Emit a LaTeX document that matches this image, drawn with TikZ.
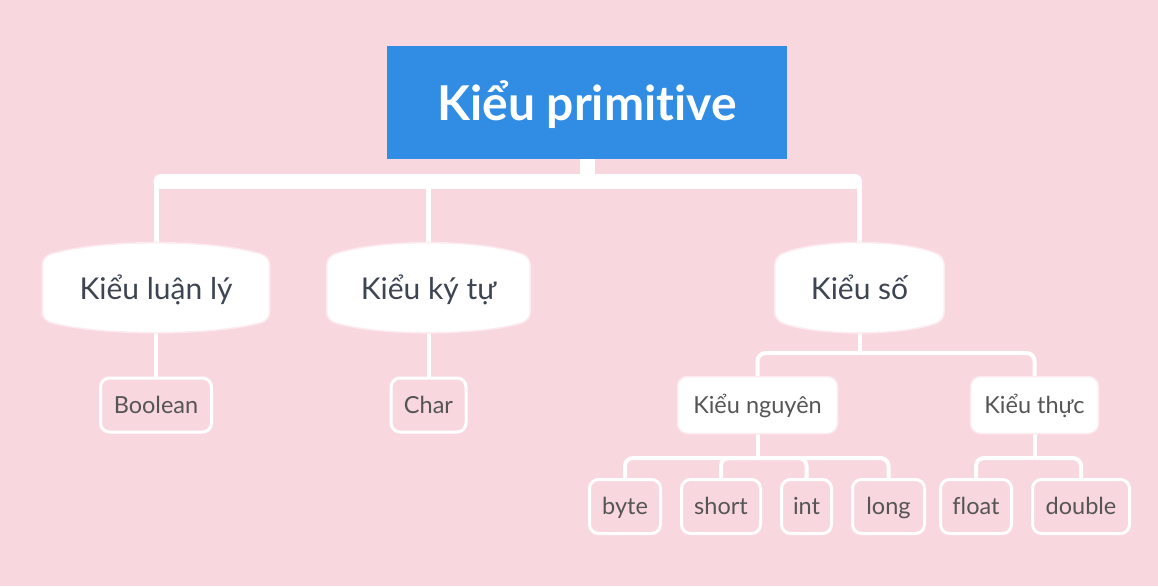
\documentclass[tikz,border=0pt]{standalone}
\usepackage{fontspec}
\setmainfont{Lato}[RawFeature={-liga}]
\usetikzlibrary{calc}
\definecolor{bgpink}{HTML}{F9D7DE}
\definecolor{topblue}{HTML}{318CE3}
\definecolor{txtdark}{HTML}{3E4552}
\definecolor{txtgray}{HTML}{555555}
\definecolor{rim}{HTML}{FCEBEF}
\pgfdeclarelayer{bg}
\pgfdeclarelayer{lines}
\pgfdeclarelayer{shapes}
\pgfsetlayers{bg,lines,shapes,main}

\tikzset{
  root/.style={fill=topblue, text=white, font=\fontsize{48}{56}\selectfont\bfseries,
    minimum width=400pt, minimum height=113pt, inner sep=0pt,
    text height=37pt, text depth=2pt},
  kind/.style={text=txtdark, font=\fontsize{30}{36}\selectfont,
    minimum height=63pt, inner sep=0pt, text height=24pt, text depth=3pt},
  sub/.style={fill=white, draw=rim, line width=1.5pt, rounded corners=10pt, text=txtgray,
    font=\fontsize{23.5}{28}\selectfont, minimum height=57pt, inner sep=0pt,
    text height=18pt, text depth=2pt},
  leaf/.style={draw=white, line width=3pt, rounded corners=9pt, text=txtgray,
    font=\fontsize{23.5}{28}\selectfont, minimum height=54pt, inner sep=0pt,
    text height=18pt, text depth=2pt},
  link/.style={draw=white, line width=4pt, rounded corners=8pt},
  twig/.style={draw=white, line width=5pt},
  trunk/.style={draw=white, line width=15pt},
  bar/.style={draw=white, line width=15pt, line cap=round},
}

% bulged box behind a kind node
\newcommand{\bulge}[1]{%
  \filldraw[fill=white, draw=rim, line width=1.5pt, rounded corners=8pt]
    (#1.south west) -- (#1.north west)
    .. controls ($(#1.north west)!0.25!(#1.north east)+(0,18pt)$)
       and ($(#1.north west)!0.75!(#1.north east)+(0,18pt)$) .. (#1.north east)
    -- (#1.south east)
    .. controls ($(#1.south west)!0.75!(#1.south east)+(0,-16pt)$)
       and ($(#1.south west)!0.25!(#1.south east)+(0,-16pt)$) .. (#1.south west)
    -- cycle;}

\begin{document}
\begin{tikzpicture}[x=1pt,y=-1pt]
  \begin{pgfonlayer}{bg}
    \fill[bgpink] (0,0) rectangle (1158,586);
  \end{pgfonlayer}
  \useasboundingbox (0,0) rectangle (1158,586);

  \node[root] (top) at (587,102.5) {Kiểu primitive};

  \node[kind, minimum width=227pt] (luan) at (156,288.5) {Kiểu luận lý};
  \node[kind, minimum width=203pt] (kytu) at (428.5,288.5) {Kiểu ký tự};
  \node[kind, minimum width=169pt] (so) at (859.5,288.5) {Kiểu số};

  \node[leaf, minimum width=111pt] (bool) at (156,405) {Boolean};
  \node[leaf, minimum width=75pt] (char) at (428.5,405) {Char};

  \node[sub, minimum width=160pt] (ng) at (757.5,405) {Kiểu nguyên};
  \node[sub, minimum width=128pt] (th) at (1034.5,405) {Kiểu thực};

  \node[leaf, minimum width=71pt] (byte) at (625,506.5) {byte};
  \node[leaf, minimum width=79pt] (short) at (721,506.5) {short};
  \node[leaf, minimum width=50pt] (int) at (806.5,506.5) {int};
  \node[leaf, minimum width=72pt] (long) at (888.5,506.5) {long};
  \node[leaf, minimum width=71pt] (float) at (976,506.5) {float};
  \node[leaf, minimum width=97pt] (double) at (1081,506.5) {double};

  \coordinate (bar) at (587,181.5);
  \coordinate (sj) at (859.5,353);
  \coordinate (nj) at (757.5,458);
  \coordinate (tj) at (1034.5,458);

  \begin{pgfonlayer}{lines}
    \draw[trunk] (top.south) -- (top.south |- bar);
    \foreach \k in {luan,kytu,so}
      \draw[twig] (\k.north) -- (\k.north |- bar);
    \draw[bar] ([xshift=5pt]luan.north |- bar) -- ([xshift=-5pt]so.north |- bar);
    \draw[link] (luan.south) -- (bool.north);
    \draw[link] (kytu.south) -- (char.north);
    \draw[link] (so.south) -- (sj);
    \foreach \c in {ng,th}
      \draw[link] (\c.north) |- (sj);
    \draw[link] (ng.south) -- (nj);
    \foreach \c in {byte,short,int,long}
      \draw[link] (\c.north) |- (nj);
    \draw[link] (th.south) -- (tj);
    \foreach \c in {float,double}
      \draw[link] (\c.north) |- (tj);
  \end{pgfonlayer}

  \begin{pgfonlayer}{shapes}
    \bulge{luan}
    \bulge{kytu}
    \bulge{so}
  \end{pgfonlayer}
\end{tikzpicture}
\end{document}
